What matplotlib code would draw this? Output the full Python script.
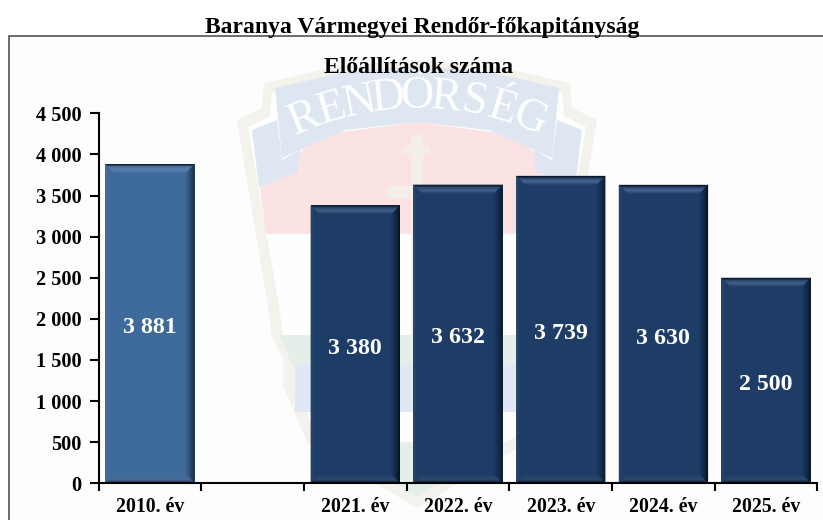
import numpy as np
import matplotlib
matplotlib.use("Agg")
import matplotlib.pyplot as plt
from matplotlib.colors import to_rgb
from matplotlib.patches import Polygon, Rectangle

#========================= data =======================
CATEGORIES = ["2010. év", "", "2021. év", "2022. év", "2023. év", "2024. év", "2025. év"]
VALUES = [3881, None, 3380, 3632, 3739, 3630, 2500]
VALUE_LABELS = ["3 881", "", "3 380", "3 632", "3 739", "3 630", "2 500"]
Y_TICKS = [0, 500, 1000, 1500, 2000, 2500, 3000, 3500, 4000, 4500]
Y_TICK_LABELS = ["0", "500", "1 000", "1 500", "2 000", "2 500", "3 000", "3 500", "4 000", "4 500"]
TITLE = "Baranya Vármegyei Rendőr-főkapitányság"
SUBTITLE = "Előállítások száma"

FIRST_COLOR = "#3f6a9c"
BAR_COLOR = "#1d3c66"
W, H = 823, 520

plt.rcParams['font.family'] = ['Liberation Serif', 'DejaVu Serif']
plt.rcParams['font.weight'] = 'bold'


def mix(c1, c2, t):
    a, b = np.array(to_rgb(c1)), np.array(to_rgb(c2))
    return tuple(a + (b - a) * t)


#========================= watermark (pixel coords) =======================
fig = plt.figure(figsize=(W / 100, H / 100), dpi=100, facecolor="white")
bg = fig.add_axes([0, 0, 1, 1], zorder=0)
bg.set_xlim(0, W)
bg.set_ylim(H, 0)
bg.axis("off")

bg.add_patch(Rectangle((9.5, 36), W, H, facecolor="#fdfdfd", edgecolor="#444444", lw=1.1))


def shape(half, color, z, cx=417):
    # half: top centre, down the left side, to bottom centre; the right side is its mirror image
    pts = list(half) + [(2 * cx - x, y) for x, y in reversed(half)]
    bg.add_patch(Polygon(pts, closed=True, facecolor=color, edgecolor="none", zorder=z))


def pair(pts, color, z, cx=417):
    # same piece on both sides of the emblem
    bg.add_patch(Polygon(pts, closed=True, facecolor=color, edgecolor="none", zorder=z))
    bg.add_patch(Polygon([(2 * cx - x, y) for x, y in pts], closed=True, facecolor=color, edgecolor="none", zorder=z))


shape([(417, 60), (340, 66), (264, 83), (262, 108), (237, 120), (267, 300), (272, 337), (283, 358),
       (283, 385), (307, 442), (417, 508)], "#f4f2ec", 1)
shape([(417, 72), (272, 92), (270, 116), (248, 127), (278, 300), (283, 334), (295, 358), (295, 388),
       (318, 436), (417, 497)], "#fefefe", 2)
shape([(417, 122), (320, 135), (260, 187), (266, 234), (417, 234)], "#fbe3e3", 3)
shape([(417, 335), (280, 335), (292, 365), (417, 365)], "#e4efe9", 3)
shape([(417, 365), (295, 365), (295, 412), (417, 412)], "#dfe8f4", 3)
shape([(417, 442), (330, 442), (417, 497)], "#e4efe9", 3)
# ribbon ends and main ribbon
pair([(252, 130), (277, 120), (282, 160), (300, 150), (298, 172), (259, 187)], "#dde6f1", 4)
shape([(417, 66), (345, 72), (275, 88), (282, 158), (345, 130), (417, 122)], "#dde6f1", 5)
# cross
bg.add_patch(Rectangle((411, 135), 12, 205, facecolor="#f1efe8", edgecolor="none", zorder=6))
bg.add_patch(Rectangle((404, 146), 26, 8, facecolor="#f1efe8", edgecolor="none", zorder=6))
bg.add_patch(Rectangle((388, 186), 58, 12, facecolor="#f1efe8", edgecolor="none", zorder=6))

# curved RENDŐRSÉG lettering
letters = "RENDŐRSÉG"
angles = np.linspace(-22, 22, len(letters))
for letter, ang in zip(letters, angles):
    px = 417 + 301 * np.sin(np.radians(ang))
    py = 398 - 301 * np.cos(np.radians(ang))
    bg.text(px, py, letter, fontsize=33, fontweight="normal", color="white", ha="center", va="center",
            rotation=-ang, rotation_mode="anchor", zorder=7)

#========================= chart =======================
ax = fig.add_axes([98.5 / W, 1 - 483.3 / H, 719 / W, 370 / H], zorder=1)
ax.patch.set_alpha(0)
ax.set_xlim(0, 7)
ax.set_ylim(0, 4500)

PX_X = 7 / 719
PX_Y = 4500 / 370
BAR_W = 0.87
BEVEL = 10


def draw_bar(x, val, color):
    left, right = x - BAR_W / 2, x + BAR_W / 2
    ax.bar(x, val, width=BAR_W, color=color, linewidth=0, zorder=2)
    dark = mix(color, "#050d18", 0.9)
    light = mix(color, "#8fa8c6", 0.42)
    low = mix(color, "#5f6f80", 0.25)
    for i in range(BEVEL):
        # nested strips, outermost first
        l0, l1 = left + i * PX_X, left + (i + 1) * PX_X
        r0, r1 = right - i * PX_X, right - (i + 1) * PX_X
        t0, t1 = val - i * PX_Y, val - (i + 1) * PX_Y
        b0, b1 = i * PX_Y, (i + 1) * PX_Y
        f = i / (BEVEL - 1)
        # top: dark edge, then light band fading into the face
        top_c = mix(dark, color, min(1, i / 2) * 0.8) if i < 2 else (
            mix(color, light, (i - 1) / 4) if i < 6 else mix(light, color, (i - 5) / 4))
        ax.add_patch(Polygon([(l0, t0), (r0, t0), (r1, t1), (l1, t1)], facecolor=top_c, edgecolor="none", zorder=3))
        ax.add_patch(Polygon([(r0, t0), (r1, t1), (r1, b1), (r0, b0)], facecolor=mix(dark, color, f ** 0.8),
                             edgecolor="none", zorder=3))
        ax.add_patch(Polygon([(l0, t0), (l1, t1), (l1, b1), (l0, b0)], facecolor=mix(low, color, min(1, f * 2.5)),
                             edgecolor="none", zorder=3))
        ax.add_patch(Polygon([(l0, b0), (r0, b0), (r1, b1), (l1, b1)], facecolor=mix(dark, low, min(1, i / 3)) if i < 5
                             else mix(low, color, (i - 5) / 4), edgecolor="none", zorder=3))


for i, (val, lab) in enumerate(zip(VALUES, VALUE_LABELS)):
    if val is None:
        continue
    x = i + 0.5
    draw_bar(x, val, FIRST_COLOR if i == 0 else BAR_COLOR)
    ax.annotate(lab, xy=(x, val / 2), xytext=(0, -4), textcoords="offset pixels", color="white", fontsize=17.2,
                ha="center", va="center", zorder=5)

for side in ("top", "right"):
    ax.spines[side].set_visible(False)
for side in ("left", "bottom"):
    ax.spines[side].set_linewidth(1.5)
    ax.spines[side].set_color("black")
    ax.spines[side].set_zorder(6)

ax.set_yticks(Y_TICKS)
ax.set_yticklabels(Y_TICK_LABELS, fontsize=14.6)
ax.set_xticks(np.arange(0, 8))
ax.set_xticklabels([])
ax.tick_params(axis="y", length=6.5, width=1.5, pad=5.5)
ax.tick_params(axis="x", length=6, width=1.5)
for i, cat in enumerate(CATEGORIES):
    ax.annotate(cat, xy=(i + 0.5, 0), xycoords=("data", "axes fraction"), xytext=(0, -24),
                textcoords="offset pixels", ha="center", va="center", fontsize=14.2, annotation_clip=False)

fig.text(422.5 / W, 1 - 27.5 / H, TITLE, fontsize=17, ha="center", va="center", zorder=7)
fig.text(419 / W, 1 - 67.5 / H, SUBTITLE, fontsize=17, ha="center", va="center", zorder=7)

plt.savefig("out.png", dpi=100)
